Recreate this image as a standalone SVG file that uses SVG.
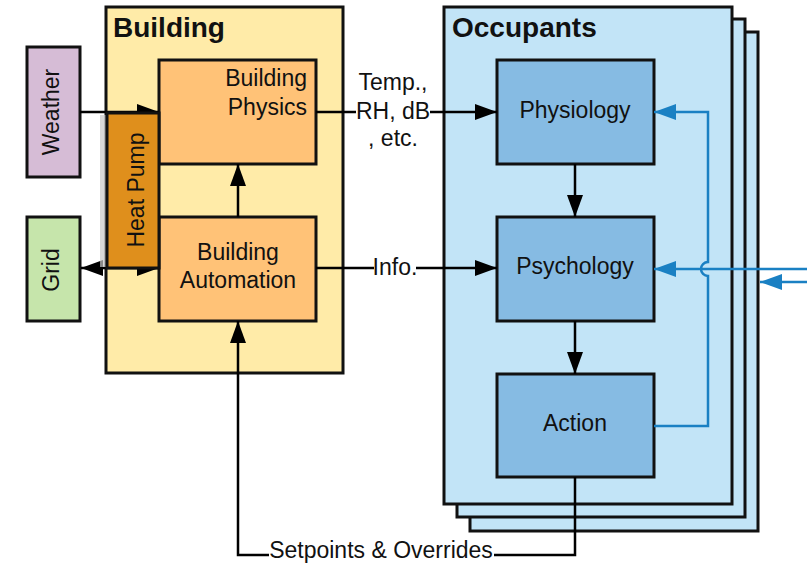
<svg xmlns="http://www.w3.org/2000/svg" width="807" height="564" viewBox="0 0 807 564">
<style>
text{font-family:"Liberation Sans",Arial,sans-serif;font-size:23px;fill:#111}
.title{font-weight:bold;font-size:28px}
.box{stroke:#111;stroke-width:3}
.ln{fill:none;stroke:#000;stroke-width:2.5}
.bl{fill:none;stroke:#1a80c3;stroke-width:2.5}
.mid{text-anchor:middle}
</style>
<defs>
<marker id="ah" viewBox="0 0 22 16" refX="22" refY="8" markerWidth="22" markerHeight="16" markerUnits="userSpaceOnUse" orient="auto-start-reverse"><path d="M0,0L22,8L0,16z" fill="#000"/></marker>
<marker id="ahb" viewBox="0 0 22 16" refX="22" refY="8" markerWidth="22" markerHeight="16" markerUnits="userSpaceOnUse" orient="auto"><path d="M0,0L22,8L0,16z" fill="#1a80c3"/></marker>
</defs>

<g id="building">
<rect class="box" x="106" y="7" width="237" height="366" fill="#FFEBA8"/>
<text class="title" x="113" y="37">Building</text>
</g>
<g id="occupants">
<rect class="box" x="470" y="32" width="288" height="499" fill="#C2E4F7"/>
<rect class="box" x="457" y="19" width="288" height="498" fill="#C2E4F7"/>
<rect class="box" x="444" y="7" width="288" height="497" fill="#C2E4F7"/>
<text class="title" x="452" y="37">Occupants</text>
</g>
<g id="weather">
<rect class="box" x="27" y="47" width="53" height="130" fill="#D6BCD6"/>
<text class="mid" transform="translate(51,112) rotate(-90)" x="0" y="8">Weather</text>
</g>
<g id="grid">
<rect class="box" x="27" y="217" width="53" height="104" fill="#C6E5AB"/>
<text class="mid" transform="translate(51,270) rotate(-90)" x="0" y="8">Grid</text>
</g>
<g id="physics">
<rect class="box" x="159" y="60" width="157" height="104" fill="#FFC277"/>
<text x="307" y="86" text-anchor="end">Building</text>
<text x="307" y="115" text-anchor="end">Physics</text>
</g>
<g id="automation">
<rect class="box" x="159" y="217" width="157" height="104" fill="#FFC277"/>
<text class="mid" x="238" y="260">Building</text>
<text class="mid" x="238" y="288">Automation</text>
</g>
<g id="physiology">
<rect class="box" x="497" y="60" width="157" height="104" fill="#86BBE3"/>
<text class="mid" x="575" y="118">Physiology</text>
</g>
<g id="psychology">
<rect class="box" x="497" y="217" width="157" height="104" fill="#86BBE3"/>
<text class="mid" x="575" y="274">Psychology</text>
</g>
<g id="action">
<rect class="box" x="497" y="374" width="157" height="103" fill="#86BBE3"/>
<text class="mid" x="575" y="431">Action</text>
</g>

<g id="connectors">
<line class="ln" x1="80" y1="112" x2="159" y2="112" marker-end="url(#ah)"/>
<line class="ln" x1="81" y1="268" x2="159" y2="268" marker-start="url(#ah)" marker-end="url(#ah)"/>
<line class="ln" x1="238" y1="217" x2="238" y2="164" marker-end="url(#ah)"/>
<line class="ln" x1="316" y1="112" x2="497" y2="112" marker-end="url(#ah)"/>
<rect x="356" y="100" width="74" height="22" fill="#fff"/>
<text class="mid" x="393" y="90">Temp.,</text>
<text class="mid" x="393" y="119">RH, dB</text>
<text class="mid" x="393" y="146">, etc.</text>
<line class="ln" x1="316" y1="268" x2="497" y2="268" marker-end="url(#ah)"/>
<rect x="374" y="256" width="42" height="22" fill="#fff"/>
<text class="mid" x="395" y="275">Info.</text>
<line class="ln" x1="575" y1="164" x2="575" y2="217" marker-end="url(#ah)"/>
<line class="ln" x1="575" y1="321" x2="575" y2="374" marker-end="url(#ah)"/>
<path class="ln" d="M575,477V555H238V321" marker-end="url(#ah)"/>
<rect x="269" y="544" width="225" height="20" fill="#fff"/>
<text class="mid" x="381" y="558">Setpoints &amp; Overrides</text>
<path class="bl" d="M654,426H708V276A7,7 0 0 1 708,262V112H654" marker-end="url(#ahb)"/>
<line class="bl" x1="807" y1="269" x2="654" y2="269" marker-end="url(#ahb)"/>
<line class="bl" x1="807" y1="282" x2="760" y2="282" marker-end="url(#ahb)"/>
</g>

<g id="heatpump">
<rect x="100" y="115" width="7" height="152" fill="#c8c8c8" opacity="0.7"/>
<rect class="box" x="107" y="113" width="52" height="155" fill="#DF8F1C"/>
<text class="mid" transform="translate(136,190) rotate(-90)" x="0" y="8">Heat Pump</text>
</g>
</svg>
